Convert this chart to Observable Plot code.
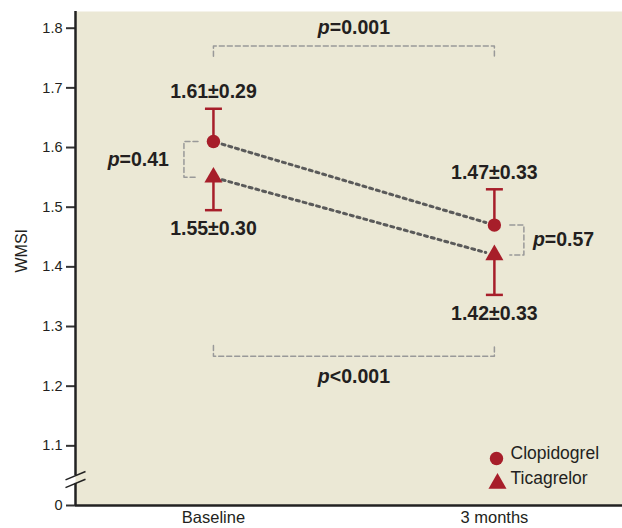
<!DOCTYPE html>
<html>
<head>
<meta charset="utf-8">
<script src="https://cdn.jsdelivr.net/npm/d3@7"></script>
<script src="https://cdn.jsdelivr.net/npm/@observablehq/plot@0.6"></script>
<style>
  html, body { margin: 0; padding: 0; background: #fff; }
</style>
</head>
<body>
<div id="chart"></div>
<script>
// ---- data ----
const timepoints = ["Baseline", "3 months"];
const groups = ["Clopidogrel", "Ticagrelor"];
const clopMean = [1.61, 1.47];
const clopSD = [0.29, 0.33];
const clopUpper = [1.665, 1.53];   // error-bar cap (upper)
const ticaMean = [1.55, 1.42];
const ticaSD = [0.30, 0.33];
const ticaLower = [1.495, 1.353];  // error-bar cap (lower)
const yTicks = [1.0, 1.1, 1.2, 1.3, 1.4, 1.5, 1.6, 1.7, 1.8];
const pLabels = ["p=0.001", "p<0.001", "p=0.41", "p=0.57"];
const bracketTop = [1.753, 1.77];     // clopidogrel over time
const bracketBottom = [1.268, 1.25];  // ticagrelor over time
const sideBracket = [0.055, 0.105];   // between-group brackets (x offsets)
const axisBreak = [1.037, 1.05];

// ---- styles ----
const red = "#a71e2a";
const bg = "#ebe8d5";
const ink = "#231f20";
const font = "'Liberation Sans', Arial, Helvetica, sans-serif";
const xDomain = [-0.491, 1.456];
const yDomain = [1.0, 1.828];

const clop = timepoints.map((t, i) => ({i, mean: clopMean[i], sd: clopSD[i], cap: clopUpper[i],
  label: `${clopMean[i].toFixed(2)}±${clopSD[i].toFixed(2)}`}));
const tica = timepoints.map((t, i) => ({i, mean: ticaMean[i], sd: ticaSD[i], cap: ticaLower[i],
  label: `${ticaMean[i].toFixed(2)}±${ticaSD[i].toFixed(2)}`}));

const connectors = [clop, tica].map(s => ({x1: 0, y1: s[0].mean, x2: 1, y2: s[1].mean}));

const brackets = [
  [{x: 0, y: bracketTop[0]}, {x: 0, y: bracketTop[1]}, {x: 1, y: bracketTop[1]}, {x: 1, y: bracketTop[0]}],
  [{x: 0, y: bracketBottom[0]}, {x: 0, y: bracketBottom[1]}, {x: 1, y: bracketBottom[1]}, {x: 1, y: bracketBottom[0]}],
  [{x: -sideBracket[0], y: clopMean[0]}, {x: -sideBracket[1], y: clopMean[0]}, {x: -sideBracket[1], y: ticaMean[0]}, {x: -sideBracket[0], y: ticaMean[0]}],
  [{x: 1 + sideBracket[0], y: clopMean[1]}, {x: 1 + sideBracket[1], y: clopMean[1]}, {x: 1 + sideBracket[1], y: ticaMean[1]}, {x: 1 + sideBracket[0], y: ticaMean[1]}]
].flatMap((b, k) => b.map(p => ({...p, k})));

const capSymbol = {draw(ctx, size) { const r = Math.sqrt(size / Math.PI); ctx.moveTo(-r, 0); ctx.lineTo(r, 0); }};
const slashSymbol = {draw(ctx, size) { const r = Math.sqrt(size / Math.PI); ctx.moveTo(-r, r * 0.42); ctx.lineTo(r, -r * 0.42); }};

const pStyle = {fontFamily: font, fontWeight: "bold", fontSize: 19.5, fill: ink};

const plot = Plot.plot({
  width: 622,
  height: 528,
  marginLeft: 75,
  marginRight: 0,
  marginTop: 11,
  marginBottom: 23,
  x: {domain: xDomain},
  y: {domain: yDomain},
  style: {fontFamily: font, background: "#fff", color: ink, overflow: "visible"},
  marks: [
    Plot.frame({fill: bg, stroke: null}),
    // axes
    Plot.axisY({ticks: yTicks, tickFormat: d => d === 1 ? "0" : d.toFixed(1), tickSize: 9, tickPadding: 4,
      strokeWidth: 2, stroke: "#333", fontFamily: font, fontSize: 14.5, label: null, fill: ink}),
    Plot.axisX({ticks: [0, 1], tickFormat: i => timepoints[i], tickSize: 0, tickPadding: 6, fontFamily: font, fontSize: 16.5, label: null, fill: ink}),
    Plot.ruleX([xDomain[0]], {y1: yDomain[0], y2: axisBreak[0], stroke: "#222", strokeWidth: 2.5}),
    Plot.ruleX([xDomain[0]], {y1: axisBreak[1], y2: yDomain[1], stroke: "#222", strokeWidth: 2.5}),
    Plot.dot(axisBreak, {x: () => xDomain[0], y: d => d, symbol: slashSymbol, r: 10, stroke: "#222", strokeWidth: 1.5, fill: "none"}),
    Plot.ruleY([yDomain[0]], {stroke: "#222", strokeWidth: 2.5}),
    Plot.text(["WMSI"], {text: d => d, frameAnchor: "left", rotate: -90, dx: -53.5, dy: 14, fontFamily: font, fontSize: 16, fill: ink}),
    // brackets
    Plot.line(brackets, {x: "x", y: "y", z: "k", stroke: "#999", strokeWidth: 1.5, strokeDasharray: "5,3"}),
    // connectors
    Plot.arrow(connectors, {x1: "x1", y1: "y1", x2: "x2", y2: "y2", headLength: 0, insetStart: 9, insetEnd: 9,
      stroke: "#5a5a5a", strokeWidth: 3, strokeDasharray: "3,4"}),
    // error bars
    Plot.ruleX(clop, {x: "i", y1: "mean", y2: "cap", stroke: red, strokeWidth: 2.5}),
    Plot.ruleX(tica, {x: "i", y1: "mean", y2: "cap", stroke: red, strokeWidth: 2.5}),
    Plot.dot([...clop, ...tica], {x: "i", y: "cap", symbol: capSymbol, r: 8.5, stroke: red, strokeWidth: 2.5, fill: "none"}),
    // points
    Plot.dot(clop, {x: "i", y: "mean", symbol: "circle", r: 6.7, fill: red}),
    Plot.dot(tica, {x: "i", y: "mean", symbol: "triangle", r: 6.7, fill: red}),
    // value labels
    Plot.text(clop, {x: "i", y: "cap", text: "label", dy: -17, ...pStyle}),
    Plot.text(tica, {x: "i", y: "cap", text: "label", dy: 19, ...pStyle}),
    // p-values
    Plot.text([pLabels[0]], {x: 0.5, y: bracketTop[1], text: d => d, dy: -18, ...pStyle}),
    Plot.text([pLabels[1]], {x: 0.5, y: bracketBottom[1], text: d => d, dy: 20, ...pStyle}),
    Plot.text([pLabels[2]], {x: -sideBracket[1], y: (clopMean[0] + ticaMean[0]) / 2, text: d => d, dx: -15, textAnchor: "end", ...pStyle}),
    Plot.text([pLabels[3]], {x: 1 + sideBracket[1], y: (clopMean[1] + ticaMean[1]) / 2, text: d => d, dx: 9, textAnchor: "start", ...pStyle}),
    // legend
    Plot.dot([groups[0]], {frameAnchor: "bottom-right", dx: -126, dy: -47, symbol: "circle", r: 6.7, fill: red}),
    Plot.dot([groups[1]], {frameAnchor: "bottom-right", dx: -125, dy: -22, symbol: "triangle", r: 6.7, fill: red}),
    Plot.text([groups[0]], {text: d => d, frameAnchor: "bottom-right", dx: -112, dy: -47, textAnchor: "start", fontFamily: font, fontSize: 17.5, fill: ink}),
    Plot.text([groups[1]], {text: d => d, frameAnchor: "bottom-right", dx: -112, dy: -22, textAnchor: "start", fontFamily: font, fontSize: 17.5, fill: ink})
  ]
});

// italic "p" in p-value labels
d3.select(plot).selectAll("text").each(function() {
  const t = this.textContent;
  if (/^p[=<]/.test(t) && this.children.length === 0) {
    const sel = d3.select(this);
    sel.text(null);
    sel.append("tspan").attr("font-style", "italic").text("p");
    sel.append("tspan").text(t.slice(1));
  }
});

document.getElementById("chart").appendChild(plot);
</script>
</body>
</html>
